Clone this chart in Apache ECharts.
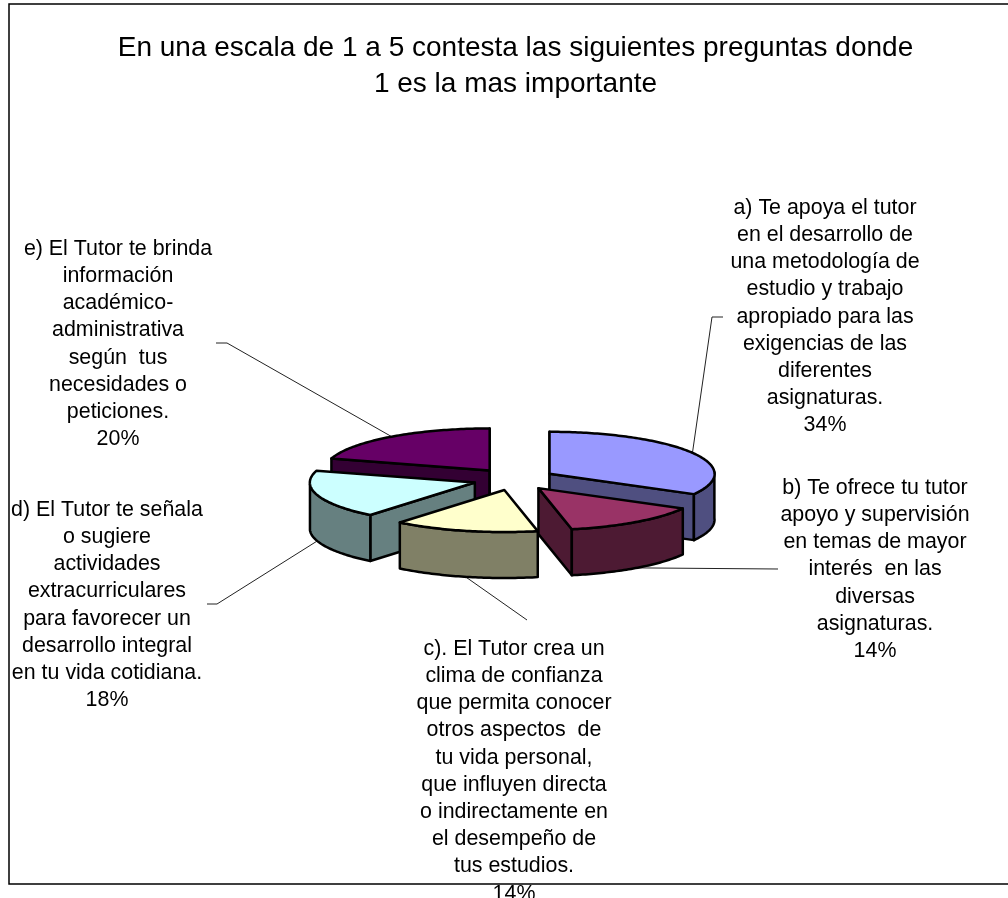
<!DOCTYPE html>
<html>
<head>
<meta charset="utf-8">
<style>html,body{margin:0;padding:0;background:#fff;overflow:hidden}#c{width:1008px;height:898px}</style>
<script src="https://cdn.jsdelivr.net/npm/echarts@6/dist/echarts.min.js"></script>
</head>
<body>
<div id="c"></div>
<script>
// ---- data ----
const titleText = 'En una escala de 1 a 5 contesta las siguientes preguntas donde\n1 es la mas importante';
const categories = ['a', 'b', 'c', 'd', 'e'];
const values = [34, 14, 14, 18, 20];
const labelTexts = [
  ['a) Te apoya el tutor', 'en el desarrollo de', 'una metodología de', 'estudio y trabajo', 'apropiado para las', 'exigencias de las', 'diferentes', 'asignaturas.'],
  ['b) Te ofrece tu tutor', 'apoyo y supervisión', 'en temas de mayor', 'interés  en las', 'diversas', 'asignaturas.'],
  ['c). El Tutor crea un', 'clima de confianza', 'que permita conocer', 'otros aspectos  de', 'tu vida personal,', 'que influyen directa', 'o indirectamente en', 'el desempeño de', 'tus estudios.'],
  ['d) El Tutor te señala', 'o sugiere', 'actividades', 'extracurriculares', 'para favorecer un', 'desarrollo integral', 'en tu vida cotidiana.'],
  ['e) El Tutor te brinda', 'información', 'académico-', 'administrativa', 'según  tus', 'necesidades o', 'peticiones.']
];
// ---- styles and layout ----
const topColors = ['#9999FF', '#993366', '#FFFFCC', '#CCFFFF', '#660066'];
const wallColors = ['#4F4F80', '#4D1A33', '#808066', '#668080', '#330033'];
const labelCenters = [[825, 208], [875, 488], [514, 649], [107, 510], [118, 249]];
const leaderElbows = [
  [[712, 317], [723, 317]],
  [[778, 569]],
  [[527, 620]],
  [[217, 604], [207, 604]],
  [[227, 343], [216, 343]]
];
const LINE_PITCH = 27.2, FONT = '21.4px "Liberation Sans", Arial, sans-serif';
const CX = 514, CY = 479.3, EXPLODE_X = 41, EXPLODE_Y = 11, RX = 165, RY = 42, DEPTH = 46;

const total = values.reduce((s, v) => s + v, 0);
const rad = d => d * Math.PI / 180;
const warp = d => d - 4.5 * (1 - Math.cos(rad(d))) / 2;
const spans = [];
values.reduce((acc, v) => { const e = acc + v / total * 360; spans.push([acc, e]); return e; }, 0);
const apexes = spans.map(([s, e]) => {
  const m = rad(warp((s + e) / 2));
  return [CX + EXPLODE_X * Math.sin(m), CY - EXPLODE_Y * Math.cos(m)];
});
const rim = (i, deg, dz) => {
  const t = rad(warp(deg));
  return [apexes[i][0] + RX * Math.sin(t), apexes[i][1] - RY * Math.cos(t) + dz];
};
const arc = (i, a, b, dz) => {
  const n = Math.max(2, Math.ceil(Math.abs(b - a)));
  const pts = [];
  for (let k = 0; k <= n; k++) pts.push(rim(i, a + (b - a) * k / n, dz));
  return pts;
};
const down = (p, dz) => [p[0], p[1] + dz];
const depthRank = apexes.map((p, i) => [p[1], i]).sort((x, y) => x[0] - y[0]).map(x => x[1]);

function renderSlice(params) {
  const i = params.dataIndex;
  const [s, e] = spans[i];
  const z = (depthRank.indexOf(i) + 1) * 10;
  const ap = apexes[i];
  const stroke = { stroke: '#000', lineWidth: 2.5, lineJoin: 'round' };
  const poly = (points, fill, zz) => ({ type: 'polygon', z2: z + zz, shape: { points }, style: { fill, ...stroke } });
  const children = [];
  const eps = 1e-6;
  if (Math.sin(rad(s)) < eps) {
    const p = rim(i, s, 0);
    children.push(poly([ap, p, down(p, DEPTH), down(ap, DEPTH)], wallColors[i], 0));
  }
  if (Math.sin(rad(e)) > -eps) {
    const p = rim(i, e, 0);
    children.push(poly([ap, p, down(p, DEPTH), down(ap, DEPTH)], wallColors[i], 1));
  }
  const a = Math.max(s, 90), b = Math.min(e, 270);
  if (b > a) {
    children.push(poly(arc(i, a, b, 0).concat(arc(i, b, a, DEPTH)), wallColors[i], 2));
  }
  children.push(poly([ap].concat(arc(i, s, e, 0)), topColors[i], 3));
  // leader line from the rim at the slice's mid angle
  const mid = (s + e) / 2;
  const start = rim(i, mid, Math.cos(rad(mid)) < 0 ? DEPTH : 0);
  children.push({
    type: 'polyline', z2: 1,
    shape: { points: [start].concat(leaderElbows[i]) },
    style: { fill: null, stroke: '#222', lineWidth: 1 }
  });
  // label text
  labelTexts[i].concat([values[i] + '%']).forEach((t, k) => {
    children.push({
      type: 'text', z2: 100,
      style: {
        text: t, x: labelCenters[i][0], y: labelCenters[i][1] + k * LINE_PITCH,
        align: 'center', verticalAlign: 'middle', font: FONT, fill: '#000'
      }
    });
  });
  return { type: 'group', children };
}

const chart = echarts.init(document.getElementById('c'), null, { renderer: 'canvas' });
chart.setOption({
  animation: false,
  backgroundColor: '#fff',
  title: {
    text: titleText, left: 515.5, top: 30, textAlign: 'center', padding: 0,
    textStyle: { fontFamily: '"Liberation Sans", Arial, sans-serif', fontSize: 28, fontWeight: 'normal', color: '#000', lineHeight: 36 }
  },
  graphic: [{
    type: 'polyline', z: 0, silent: true,
    shape: { points: [[1008, 4], [9, 4], [9, 884], [1008, 884]] },
    style: { fill: null, stroke: '#000', lineWidth: 1.5 }
  }],
  series: [{
    type: 'custom', coordinateSystem: 'none', silent: true, clip: false,
    data: categories.map((c, i) => ({ name: c, value: values[i] })),
    renderItem: renderSlice
  }]
});
</script>
</body>
</html>
